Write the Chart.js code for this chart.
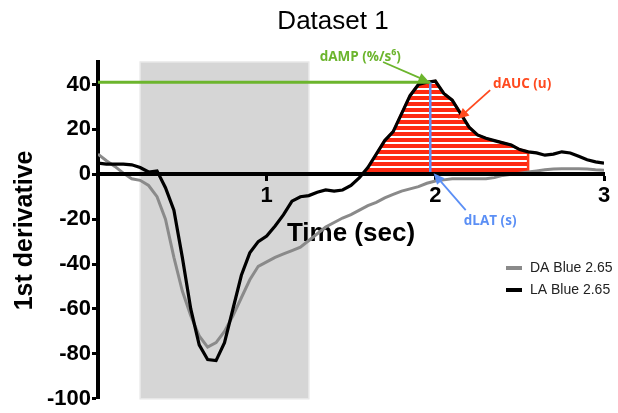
<!DOCTYPE html>
<html>
<head>
<meta charset="utf-8">
<script src="https://cdn.jsdelivr.net/npm/chart.js@4.4.0/dist/chart.umd.min.js"></script>
<style>
  html, body { margin: 0; padding: 0; background: #fff; }
  #wrap { width: 618px; height: 413px; }
</style>
</head>
<body>
<div id="wrap"><canvas id="chart"></canvas></div>
<script>
// time (sec)
const times = [
  0, 0.05, 0.1, 0.15, 0.2, 0.25, 0.3, 0.35, 0.4, 0.45,
  0.5, 0.55, 0.6, 0.65, 0.7, 0.75, 0.8, 0.85, 0.9, 0.95,
  1, 1.05, 1.1, 1.15, 1.2, 1.25, 1.3, 1.35, 1.4, 1.45,
  1.5, 1.55, 1.6, 1.65, 1.7, 1.75, 1.8, 1.85, 1.9, 1.95,
  2, 2.05, 2.1, 2.15, 2.2, 2.25, 2.3, 2.35, 2.4, 2.45,
  2.5, 2.55, 2.6, 2.65, 2.7, 2.75, 2.8, 2.85, 2.9, 2.95, 3
];
// DA Blue 2.65 (grey)
const daBlue = [
  9, 6, 3.5, 0.5, -2, -2.7, -5, -10, -20, -37,
  -52, -63, -72, -77, -75, -70, -63, -55, -47, -41,
  -39, -37, -35.5, -34, -32.5, -29.5, -26.5, -23.5, -21.5, -19.5,
  -18, -16, -14, -12.5, -10.5, -9, -7.5, -6.5, -5.5, -4,
  -3, -2.5, -2, -2, -2, -2, -2, -1.5, -0.5, 0,
  0.5, 1, 1.5, 2, 2.3, 2.5, 2.5, 2.5, 2.3, 2, 1.8
];
// LA Blue 2.65 (black)
const laBlue = [
  5, 4.5, 4.5, 4.5, 4.2, 3, 1, 1.5, -6, -16,
  -37, -60, -76, -82.5, -83, -75, -60, -45, -35, -30,
  -27.5, -23, -18, -12, -10, -9.5, -8, -7, -7.5, -7,
  -5, -1.5, 3, 9, 15, 19, 27, 35, 40, 41,
  41.5, 36, 33, 27, 21, 17.5, 16, 15, 14, 13,
  11, 10, 9.5, 8.5, 9, 10, 9.5, 8, 6.5, 5.5, 5
];
const seriesLabels = ["DA Blue 2.65", "LA Blue 2.65"];
const yTicks = [-100, -80, -60, -40, -20, 0, 20, 40];
const xTicks = [1, 2, 3];

const shadeRange = [0.25, 1.25];     // grey window (sec)
const aucRange = [1.58, 2.55];       // hatched area (sec)
const ampTime = 1.97;
const ampValue = 41;

const notes = [
  { text: "dAMP (%/s\u2076)", color: "#6cb52d", at: [1.555, 52], from: [1.69, 50], to: [1.965, 41] },
  { text: "dAUC (u)", color: "#ff4a1f", at: [2.515, 40], from: [2.325, 37.5], to: [2.134, 24.6] },
  { text: "dLAT (s)", color: "#5b8ff5", at: [2.325, -21], from: [2.18, -16], to: [1.99, 0.5] },
];

function toPoints(values) {
  return values.map((v, i) => ({ x: times[i], y: v }));
}

function aucPoints() {
  const pts = [{ x: aucRange[0], y: 0 }];
  times.forEach((t, i) => {
    if (t > aucRange[0] && t <= aucRange[1] + 1e-9) pts.push({ x: t, y: laBlue[i] });
  });
  pts.push({ x: aucRange[1], y: 0 });
  return pts;
}

function stripes() {
  const c = document.createElement("canvas");
  c.width = 8;
  c.height = 6;
  const g = c.getContext("2d");
  g.fillStyle = "#ffffff";
  g.fillRect(0, 0, 8, 6);
  g.fillStyle = "#ff2a12";
  g.fillRect(0, 0, 8, 4);
  return g.createPattern(c, "repeat");
}

function arrow(ctx, x1, y1, x2, y2, color) {
  const a = Math.atan2(y2 - y1, x2 - x1);
  const len = 11, w = 5;
  ctx.strokeStyle = color;
  ctx.fillStyle = color;
  ctx.lineWidth = 1.8;
  ctx.beginPath();
  ctx.moveTo(x1, y1);
  ctx.lineTo(x2 - Math.cos(a) * len * 0.8, y2 - Math.sin(a) * len * 0.8);
  ctx.stroke();
  ctx.beginPath();
  ctx.moveTo(x2, y2);
  ctx.lineTo(x2 - Math.cos(a) * len + Math.sin(a) * w, y2 - Math.sin(a) * len - Math.cos(a) * w);
  ctx.lineTo(x2 - Math.cos(a) * len - Math.sin(a) * w, y2 - Math.sin(a) * len + Math.cos(a) * w);
  ctx.closePath();
  ctx.fill();
}

const extras = {
  id: "extras",
  beforeDraw(chart) {
    const { ctx, scales } = chart;
    const x0 = scales.x.getPixelForValue(shadeRange[0]);
    const x1 = scales.x.getPixelForValue(shadeRange[1]);
    const yTop = scales.y.getPixelForValue(50);
    const yBot = scales.y.getPixelForValue(-100);
    ctx.save();
    ctx.fillStyle = "#d6d6d6";
    ctx.fillRect(x0, yTop, x1 - x0, yBot - yTop);
    ctx.strokeStyle = "#e8e8e8";
    ctx.lineWidth = 1.5;
    ctx.strokeRect(x0, yTop, x1 - x0, yBot - yTop);
    ctx.restore();
  },
  afterDraw(chart) {
    const { ctx, scales, chartArea } = chart;
    ctx.save();
    // title
    ctx.fillStyle = "#000";
    ctx.font = '26px "Liberation Sans", Arial, sans-serif';
    ctx.textAlign = "center";
    ctx.textBaseline = "middle";
    ctx.fillText("Dataset 1", (chartArea.left + chartArea.right) / 2 - 18, 22);

    // annotations
    ctx.font = 'bold 13.5px "Open Sans", sans-serif';
    notes.forEach((n) => {
      ctx.fillStyle = n.color;
      ctx.fillText(n.text, scales.x.getPixelForValue(n.at[0]), scales.y.getPixelForValue(n.at[1]));
      arrow(ctx,
        scales.x.getPixelForValue(n.from[0]), scales.y.getPixelForValue(n.from[1]),
        scales.x.getPixelForValue(n.to[0]), scales.y.getPixelForValue(n.to[1]), n.color);
    });

    // legend
    ctx.font = '14px "Liberation Sans", Arial, sans-serif';
    ctx.textAlign = "left";
    chart.data.datasets.slice(0, 2).forEach((ds, i) => {
      const y = 268 + i * 22;
      ctx.strokeStyle = ds.borderColor;
      ctx.lineWidth = 4;
      ctx.beginPath();
      ctx.moveTo(506, y);
      ctx.lineTo(522, y);
      ctx.stroke();
      ctx.fillStyle = "#222";
      ctx.fillText(ds.label, 530, y);
    });
    ctx.restore();
  },
};

Chart.defaults.font.family = '"Liberation Sans", Arial, sans-serif';
Chart.defaults.color = "#000";

new Chart(document.getElementById("chart"), {
  type: "line",
  data: {
    datasets: [
      { label: seriesLabels[0], data: toPoints(daBlue), borderColor: "#8a8a8a", borderWidth: 3, pointRadius: 0, order: 2 },
      { label: seriesLabels[1], data: toPoints(laBlue), borderColor: "#000000", borderWidth: 3.2, pointRadius: 0, order: 1 },
      { label: "dAUC", data: aucPoints(), borderColor: "#ff3b1a", borderWidth: 2.5, backgroundColor: stripes(), fill: "origin", pointRadius: 0, order: 3 },
      { label: "dAMP", data: [{ x: 0, y: ampValue }, { x: ampTime, y: ampValue }], borderColor: "#6cb52d", borderWidth: 3, pointRadius: 0, order: 0 },
      { label: "dLAT", data: [{ x: ampTime, y: ampValue }, { x: ampTime, y: 0 }], borderColor: "#5b8ff5", borderWidth: 2.5, pointRadius: 0, order: 0 },
    ],
  },
  options: {
    responsive: true,
    maintainAspectRatio: false,
    animation: false,
    layout: { padding: { top: 62, right: 14, bottom: 14, left: 0 } },
    plugins: {
      legend: { display: false },
      title: { display: false },
      tooltip: { enabled: false },
    },
    scales: {
      x: {
        type: "linear",
        min: 0,
        max: 3,
        position: { y: 0 },
        afterBuildTicks: (scale) => { scale.ticks = xTicks.map((v) => ({ value: v })); },
        ticks: { font: { size: 22, weight: "bold" }, color: "#000", padding: 3, maxRotation: 0 },
        grid: { drawOnChartArea: false, tickLength: 5, tickWidth: 3, tickColor: "#000" },
        border: { color: "#000", width: 4, z: 1 },
        title: { display: true, text: "Time (sec)", font: { size: 26, weight: "bold" }, color: "#000", padding: { top: 7, bottom: 0 } },
      },
      y: {
        min: -100,
        max: 50,
        afterBuildTicks: (scale) => { scale.ticks = yTicks.map((v) => ({ value: v })); },
        afterFit: (scale) => { scale.width = 98; },
        ticks: { font: { size: 22, weight: "bold" }, color: "#000", padding: 1 },
        grid: { drawOnChartArea: false, tickLength: 6, tickWidth: 3, tickColor: "#000" },
        border: { color: "#000", width: 4 },
        title: { display: true, text: "1st derivative", font: { size: 25, weight: "bold" }, color: "#000", padding: { top: 10, bottom: 0 } },
      },
    },
  },
  plugins: [extras],
});
</script>
</body>
</html>
